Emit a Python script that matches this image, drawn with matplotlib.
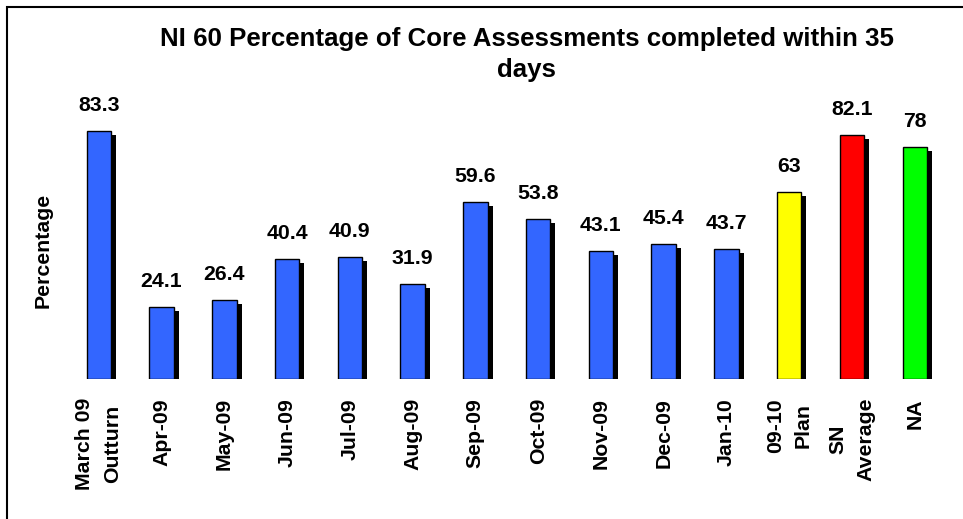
import matplotlib
matplotlib.use("Agg")
import matplotlib.pyplot as plt
import matplotlib.transforms as mtransforms
from matplotlib.patches import Rectangle

plt.rcParams['font.family'] = ['Liberation Sans', 'DejaVu Sans']
plt.rcParams['font.weight'] = 'bold'

# datos del grafico
categorias = ["March 09\nOutturn", "Apr-09", "May-09", "Jun-09", "Jul-09", "Aug-09",
              "Sep-09", "Oct-09", "Nov-09", "Dec-09", "Jan-10", "09-10\nPlan",
              "SN\nAverage", "NA"]
valores = [83.3, 24.1, 26.4, 40.4, 40.9, 31.9, 59.6, 53.8, 43.1, 45.4, 43.7, 63, 82.1, 78]
etiquetas = ["83.3", "24.1", "26.4", "40.4", "40.9", "31.9", "59.6", "53.8", "43.1",
             "45.4", "43.7", "63", "82.1", "78"]
colores = ["#3366FF"] * 11 + ["#FFFF00", "#FF0000", "#00FF00"]

fig = plt.figure(figsize=(9.63, 5.19), dpi=100)
ax = fig.add_axes([0.070, 0.2707, 0.9125, 0.5145])

x = list(range(len(valores)))
ancho = 0.39

# sombra negra desplazada
sombra = ax.transData + mtransforms.ScaledTranslation(0.05, -0.04, fig.dpi_scale_trans)
ax.bar(x, valores, width=ancho, color="black", transform=sombra, zorder=1)
ax.bar(x, valores, width=ancho, color=colores, edgecolor="black", linewidth=1, zorder=2)

for xi, v, t in zip(x, valores, etiquetas):
    ax.annotate(t, (xi, v), xytext=(0, 14.4), textcoords="offset points",
                ha="center", va="baseline", fontsize=15.3, fontweight="bold")

ax.set_xlim(-0.5, len(valores) - 0.5)
ax.set_ylim(0, 90)
ax.set_xticks(x)
ax.set_xticklabels(categorias, rotation=90, ha="center", va="top",
                   multialignment="center", fontsize=15.3, fontweight="bold",
                   linespacing=1.6)
ax.tick_params(axis="x", length=0, pad=14)
ax.set_yticks([])
for s in ax.spines.values():
    s.set_visible(False)

fig.text(0.045, 0.518, "Percentage", rotation=90, ha="center", va="center",
         fontsize=15.3, fontweight="bold")

fig.text(0.547, 0.948, "NI 60 Percentage of Core Assessments completed within 35\ndays",
         ha="center", va="top", multialignment="center", fontsize=18.6,
         fontweight="bold", linespacing=1.35)

# marco exterior
fig.patches.append(Rectangle((0.0073, -0.1), 1.1, 0.9865 + 0.1, transform=fig.transFigure,
                             fill=False, edgecolor="black", linewidth=1.5))

fig.savefig("out.png", dpi=100)
